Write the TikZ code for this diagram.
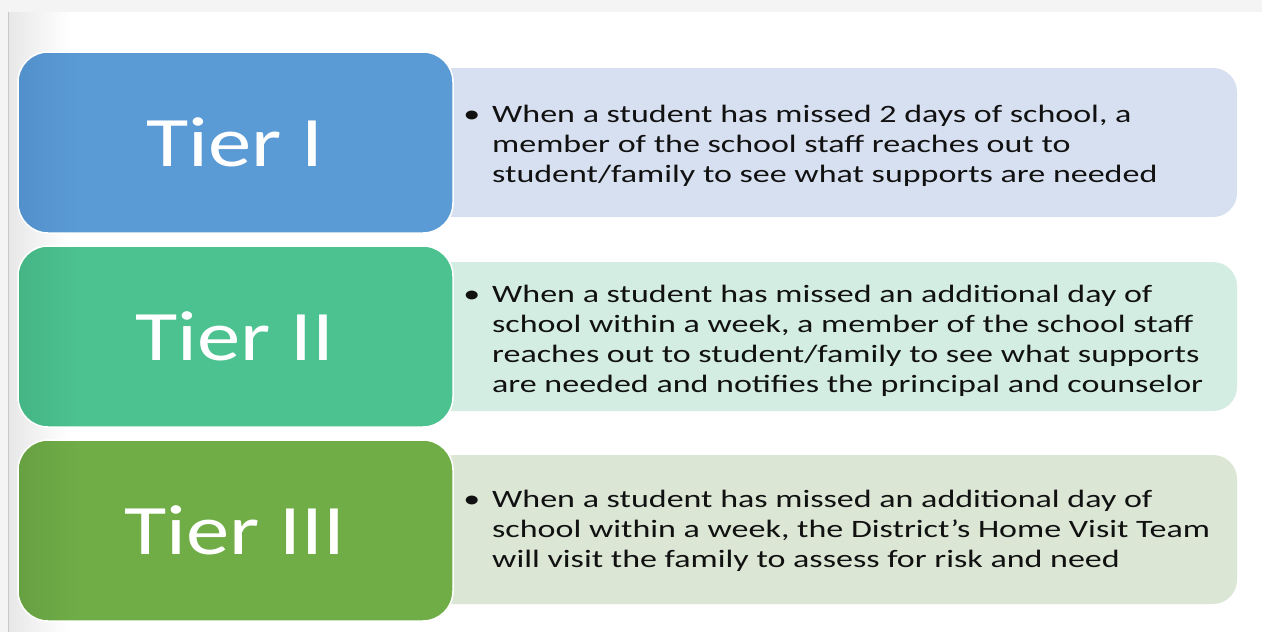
\documentclass[tikz,border=0pt]{standalone}
\usepackage{fontspec}
\setmainfont{Carlito}[FakeStretch=1.36]
\newfontfamily\tierfont{Carlito}[FakeStretch=1.22]
\definecolor{tieroneC}{HTML}{5B9BD5}
\definecolor{tieroneD}{HTML}{5290CB}
\definecolor{tieroneL}{HTML}{D7E0F0}
\definecolor{tiertwoC}{HTML}{4CC290}
\definecolor{tiertwoD}{HTML}{45B585}
\definecolor{tiertwoL}{HTML}{D3EDE3}
\definecolor{tierthrC}{HTML}{70AD47}
\definecolor{tierthrD}{HTML}{67A042}
\definecolor{tierthrL}{HTML}{DBE6D5}
\definecolor{pagegrey}{HTML}{F4F4F4}
\definecolor{edgegrey}{HTML}{C8C8C8}
\definecolor{textC}{HTML}{111111}
\tikzset{
  tierbox/.style={rounded corners=30pt, draw=white, line width=1.5pt},
  descbox/.style={rounded corners=24pt},
  tierlabel/.style={text=white, font=\tierfont\fontsize{71}{71}\selectfont, inner sep=0pt},
  desctext/.style={text=textC, font=\fontsize{25}{30}\selectfont, inner sep=0pt, anchor=base west}
}
\newcommand{\bul}{\makebox[0pt][r]{\textbullet\hspace{12pt}}}
\begin{document}
\begin{tikzpicture}[x=1pt,y=-1pt]
\useasboundingbox (0,0) rectangle (1262,632);
\fill[white] (0,0) rectangle (1262,632);
% page edges
\fill[pagegrey] (0,0) rectangle (1262,12);
\fill[pagegrey] (0,0) rectangle (8,632);
\shade[left color=black!9, right color=white] (9,12) rectangle (70,632);
\draw[edgegrey, line width=1pt] (8.5,12) -- (8.5,632);
% descriptive boxes
\fill[descbox, tieroneL] (430,68) rectangle (1237,217);
\fill[descbox, tiertwoL] (430,262) rectangle (1237,411);
\fill[descbox, tierthrL] (430,455) rectangle (1237,604);
% tier boxes
\foreach \ya/\yb/\cc/\cd in {52/233/tieroneC/tieroneD, 246/427/tiertwoC/tiertwoD, 440/621/tierthrC/tierthrD}{
  \begin{scope}
    \clip[rounded corners=30pt] (18,\ya) rectangle (453,\yb);
    \fill[\cc] (18,\ya) rectangle (453,\yb);
    \shade[left color=\cd, right color=\cc] (18,\ya) rectangle (80,\yb);
  \end{scope}
  \draw[tierbox] (18,\ya) rectangle (453,\yb);
}
\node[tierlabel] (t1) at (235,142.5) {Tier I};
\node[tierlabel] (t2) at (235,336.5) {Tier II};
\node[tierlabel] (t3) at (235,530.5) {Tier III};
% descriptions
\node[desctext] (d1) at (492,122) {\parbox[t]{740pt}{\raggedright\bul When a student has missed 2 days of school, a\\member of the school staff reaches out to\\student/family to see what supports are needed}};
\node[desctext] (d2) at (492,302) {\parbox[t]{740pt}{\raggedright\bul When a student has missed an additional day of\\school within a week, a member of the school staff\\reaches out to student/family to see what supports\\are needed and notifies the principal and counselor}};
\node[desctext] (d3) at (492,507) {\parbox[t]{740pt}{\raggedright\bul When a student has missed an additional day of\\school within a week, the District’s Home Visit Team\\will visit the family to assess for risk and need}};
\end{tikzpicture}
\end{document}
